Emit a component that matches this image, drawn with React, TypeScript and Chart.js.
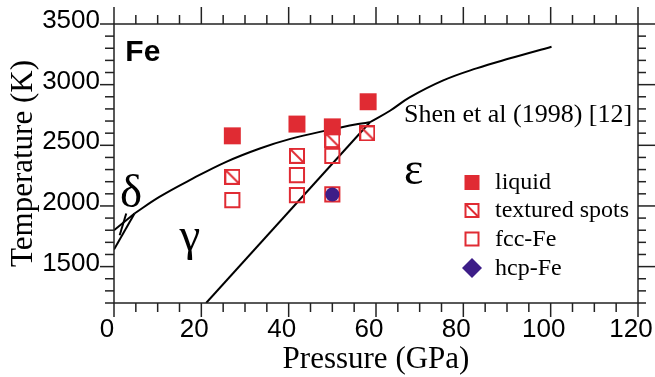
import React, { useEffect, useRef } from 'react';
import { Chart, registerables } from 'chart.js';

Chart.register(...registerables);

// ---- tick labels ----
const xTicks = [0, 20, 40, 60, 80, 100, 120];
const yTicks = [1500, 2000, 2500, 3000, 3500];
const xMinorStep = 5;
const yMinorStep = 100;

// ---- series labels ----
const seriesLabels = ['liquid', 'textured spots', 'fcc-Fe', 'hcp-Fe'];

// ---- experimental points (Pressure GPa, Temperature K) ----
const liquidP = [27.1, 41.9, 50.0, 58.2];
const liquidT = [2578, 2675, 2652, 2859];
const texturedP = [27.1, 41.9, 50.0, 58.0];
const texturedT = [2240, 2413, 2543, 2598];
const fccP = [27.1, 41.9, 41.9, 50.0, 50.0];
const fccT = [2048, 2254, 2089, 2413, 2095];
const hcpP = [50.0];
const hcpT = [2095];

// ---- phase boundaries ----
const deltaMeltP = [0, 4.7];
const deltaMeltT = [1800, 1938];
const gammaMeltP = [4.7, 10.4, 18.1, 25.7, 33.4, 40.2, 49.0, 55.9, 58.6];
const gammaMeltT = [1938, 2075, 2227, 2364, 2474, 2551, 2625, 2675, 2690];
const epsMeltP = [58.6, 63.2, 67.7, 75.4, 83.0, 90.7, 100.2];
const epsMeltT = [2690, 2785, 2895, 3035, 3134, 3217, 3313];
const deltaGammaP = [0, 4.7];
const deltaGammaT = [1641, 1938];
const deltaMarkP = [1.3, 2.8];
const deltaMarkT = [1759, 1938];
const gammaEpsP = [21.1, 58.6];
const gammaEpsT = [1200, 2690];

// ---- annotation texts ----
const noteTexts = ['Fe', 'Shen et al (1998) [12]', 'δ', 'γ', 'ε'];
const noteP = [2.6, 66.4, 1.4, 15.0, 66.4];
const noteT = [3195, 2695, 1992, 1640, 2185];

const RED = '#e02b33';
const PURPLE = '#3d1d88';
const AXIS = '#222';

const zip = (xs: number[], ys: number[]) => xs.map((x, i) => ({ x, y: ys[i] }));

function makeTextured(size: number, color: string): HTMLCanvasElement {
  const c = document.createElement('canvas');
  c.width = size;
  c.height = size;
  const g = c.getContext('2d')!;
  g.strokeStyle = color;
  g.lineWidth = 2;
  g.strokeRect(1, 1, size - 2, size - 2);
  g.beginPath();
  g.moveTo(1, 1);
  g.lineTo(size - 1, size - 1);
  g.stroke();
  return c;
}

const framePlugin = {
  id: 'frameTicks',
  afterDraw(chart: any) {
    const { ctx, chartArea: a, scales } = chart;
    const x = scales.x;
    const y = scales.y;
    ctx.save();
    ctx.strokeStyle = AXIS;
    ctx.lineWidth = 1.5;
    const seg = (x1: number, y1: number, x2: number, y2: number) => {
      ctx.beginPath();
      ctx.moveTo(x1, y1);
      ctx.lineTo(x2, y2);
      ctx.stroke();
    };
    ctx.strokeRect(a.left, a.top, a.right - a.left, a.bottom - a.top);
    const x0 = xTicks[0];
    const x1 = xTicks[xTicks.length - 1];
    for (let v = x0; v <= x1 + 1e-6; v += xMinorStep) {
      const px = x.getPixelForValue(v);
      const major = xTicks.includes(v);
      seg(px, a.bottom, px, a.bottom + (major ? 14 : 9));
      seg(px, a.top, px, a.top - (major ? 17 : 9));
    }
    for (let v = y.min; v <= y.max + 1e-6; v += yMinorStep) {
      const py = y.getPixelForValue(v);
      const major = yTicks.includes(v);
      seg(a.left, py, a.left - (major ? 14 : 9), py);
      seg(a.right, py, a.right + (major ? 17 : 8), py);
    }
    ctx.restore();
  },
};

const notesPlugin = {
  id: 'notesLegend',
  afterDatasetsDraw(chart: any) {
    const { ctx, scales } = chart;
    const x = scales.x;
    const y = scales.y;
    ctx.save();
    ctx.fillStyle = '#000';
    ctx.textBaseline = 'alphabetic';
    ctx.textAlign = 'left';
    const fonts = [
      'bold 30px "Liberation Sans", Arial, sans-serif',
      '26px "Liberation Serif", "Times New Roman", serif',
      '47px "Liberation Serif", "Times New Roman", serif',
      '47px "Liberation Serif", "Times New Roman", serif',
      '46px "Liberation Serif", "Times New Roman", serif',
    ];
    noteTexts.forEach((t, i) => {
      ctx.font = fonts[i];
      ctx.fillText(t, x.getPixelForValue(noteP[i]), y.getPixelForValue(noteT[i]));
    });

    // legend
    const lx = 472;
    const rows = [182.5, 210.5, 239, 268];
    const tx = 495;
    ctx.font = '24px "Liberation Serif", "Times New Roman", serif';
    seriesLabels.forEach((lab, i) => {
      const cy = rows[i];
      if (i === 0) {
        ctx.fillStyle = RED;
        ctx.fillRect(lx - 7.5, cy - 7.5, 15, 15);
      } else if (i === 1 || i === 2) {
        ctx.strokeStyle = RED;
        ctx.lineWidth = 2;
        ctx.strokeRect(lx - 6.5, cy - 6.5, 13, 13);
        if (i === 1) {
          ctx.beginPath();
          ctx.moveTo(lx - 6.5, cy - 6.5);
          ctx.lineTo(lx + 6.5, cy + 6.5);
          ctx.stroke();
        }
      } else {
        ctx.fillStyle = PURPLE;
        ctx.beginPath();
        ctx.moveTo(lx, cy - 10);
        ctx.lineTo(lx + 10, cy);
        ctx.lineTo(lx, cy + 10);
        ctx.lineTo(lx - 10, cy);
        ctx.closePath();
        ctx.fill();
      }
      ctx.fillStyle = '#000';
      ctx.fillText(lab, tx, cy + 6.5);
    });
    ctx.restore();
  },
};

export default function App() {
  const ref = useRef<HTMLCanvasElement | null>(null);

  useEffect(() => {
    if (!ref.current) return;
    const textured = makeTextured(16, RED);
    const lineDs = (label: string, xs: number[], ys: number[], order: number, tension = 0) => ({
      type: 'line' as const,
      label,
      data: zip(xs, ys),
      borderColor: '#000',
      borderWidth: 2,
      pointRadius: 0,
      fill: false,
      showLine: true,
      tension,
      order,
    });
    const chart = new Chart(ref.current, {
      type: 'scatter',
      data: {
        datasets: [
          {
            label: seriesLabels[0],
            data: zip(liquidP, liquidT),
            pointStyle: 'rect',
            pointRadius: 12,
            backgroundColor: RED,
            borderWidth: 0,
            order: 0,
          },
          {
            label: seriesLabels[3],
            data: zip(hcpP, hcpT),
            pointStyle: 'circle',
            pointRadius: 7,
            backgroundColor: PURPLE,
            borderWidth: 0,
            order: 1,
          },
          {
            label: seriesLabels[1],
            data: zip(texturedP, texturedT),
            pointStyle: textured,
            order: 2,
          },
          {
            label: seriesLabels[2],
            data: zip(fccP, fccT),
            pointStyle: 'rect',
            pointRadius: 10,
            backgroundColor: 'rgba(0,0,0,0)',
            borderColor: RED,
            borderWidth: 2,
            order: 3,
          },
          lineDs('delta melt', deltaMeltP, deltaMeltT, 4),
          lineDs('gamma melt', gammaMeltP, gammaMeltT, 5, 0.4),
          lineDs('epsilon melt', epsMeltP, epsMeltT, 6, 0.4),
          lineDs('delta-gamma', deltaGammaP, deltaGammaT, 7),
          lineDs('delta mark', deltaMarkP, deltaMarkT, 8),
          lineDs('gamma-epsilon', gammaEpsP, gammaEpsT, 9),
        ] as any,
      },
      options: {
        animation: false,
        responsive: true,
        maintainAspectRatio: false,
        layout: { padding: { top: 24, right: 17, left: 0, bottom: 0 } },
        plugins: {
          legend: { display: false },
          tooltip: { enabled: false },
        },
        scales: {
          x: {
            type: 'linear',
            min: xTicks[0],
            max: xTicks[xTicks.length - 1],
            grid: { display: false, drawTicks: false },
            border: { display: false },
            afterBuildTicks: (s: any) => {
              s.ticks = xTicks.map((v) => ({ value: v }));
            },
            afterFit: (s: any) => {
              s.height = 74;
              s.paddingLeft = 0;
              s.paddingRight = 0;
            },
            ticks: {
              padding: 11,
              color: '#000',
              maxRotation: 0,
              labelOffset: -7,
              callback: (v: any) => String(v),
              font: { family: '"Liberation Sans", Arial, sans-serif', size: 26 },
            },
            title: {
              display: true,
              text: 'Pressure (GPa)',
              color: '#000',
              padding: { top: 0, bottom: 2 },
              font: { family: '"Liberation Serif", "Times New Roman", serif', size: 31, lineHeight: 1 },
            },
          },
          y: {
            type: 'linear',
            min: 1200,
            max: yTicks[yTicks.length - 1],
            grid: { display: false, drawTicks: false },
            border: { display: false },
            afterBuildTicks: (s: any) => {
              s.ticks = yTicks.map((v) => ({ value: v }));
            },
            afterFit: (s: any) => {
              s.width = 114;
              s.paddingTop = 0;
              s.paddingBottom = 0;
            },
            ticks: {
              padding: 14,
              color: '#000',
              labelOffset: -3,
              callback: (v: any) => String(v),
              font: { family: '"Liberation Sans", Arial, sans-serif', size: 26 },
            },
            title: {
              display: true,
              text: 'Temperature (K)',
              color: '#000',
              padding: { top: 8, bottom: 0 },
              font: { family: '"Liberation Serif", "Times New Roman", serif', size: 31, lineHeight: 1 },
            },
          },
        },
      },
      plugins: [framePlugin, notesPlugin],
    });
    return () => chart.destroy();
  }, []);

  return (
    <div style={{ position: 'absolute', left: 0, top: 0, width: 655, height: 377, background: '#fff' }}>
      <canvas ref={ref} />
    </div>
  );
}
